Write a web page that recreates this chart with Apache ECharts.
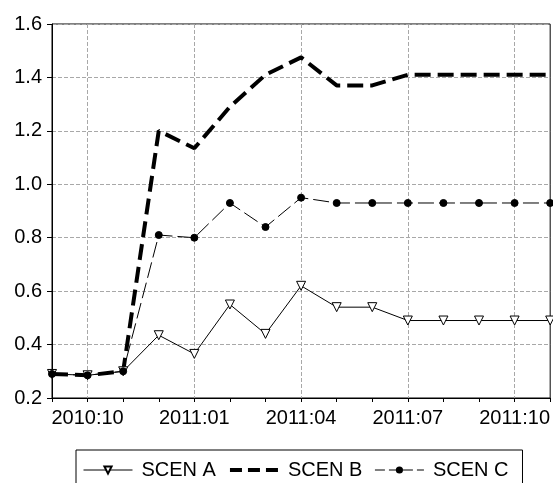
<!DOCTYPE html>
<html>
<head>
<meta charset="utf-8">
<script src="https://cdn.jsdelivr.net/npm/echarts@6/dist/echarts.min.js"></script>
<style>
  html, body { margin: 0; padding: 0; background: #fff; }
  #chart { width: 553px; height: 483px; }
</style>
</head>
<body>
<div id="chart"></div>
<script>
// monthly periods, EViews style labels
const months = ['2010:09', '2010:10', '2010:11', '2010:12', '2011:01', '2011:02', '2011:03',
  '2011:04', '2011:05', '2011:06', '2011:07', '2011:08', '2011:09', '2011:10', '2011:11']

const scenA = [0.29, 0.285, 0.30, 0.435, 0.365, 0.55, 0.44, 0.62, 0.54, 0.54, 0.49, 0.49, 0.49, 0.49, 0.49]
const scenB = [0.29, 0.285, 0.30, 1.20, 1.135, 1.29, 1.41, 1.475, 1.37, 1.37, 1.41, 1.41, 1.41, 1.41, 1.41]
const scenC = [0.29, 0.285, 0.30, 0.81, 0.80, 0.93, 0.84, 0.95, 0.93, 0.93, 0.93, 0.93, 0.93, 0.93, 0.93]

const yTicks = { min: 0.2, max: 1.6, step: 0.2 }

const font = 'Liberation Sans, Arial, sans-serif'
// show a label on every third month starting at 2010:10
const labelEvery = (idx) => (idx - 1) % 3 === 0

const chart = echarts.init(document.getElementById('chart'))

const option = {
  animation: false,
  grid: {
    left: 52,
    right: 2,
    top: 24,
    bottom: 85,
    show: true,
    borderColor: '#000',
    borderWidth: 1
  },
  legend: {
    left: 76,
    top: 450,
    orient: 'horizontal',
    borderColor: '#000',
    borderWidth: 1,
    borderRadius: 0,
    padding: [10, 14, 10, 7],
    itemWidth: 49,
    itemHeight: 9,
    itemGap: 12,
    textStyle: {
      fontFamily: font,
      fontSize: 20,
      color: '#000',
      padding: [0, 0, 0, 4]
    },
    data: [
      { name: 'SCEN A', lineStyle: { width: 1 } },
      { name: 'SCEN B', itemStyle: { opacity: 0 }, lineStyle: { width: 4, type: [12, 6], cap: 'butt' } },
      { name: 'SCEN C', lineStyle: { width: 1, type: [10, 4] } }
    ]
  },
  xAxis: {
    type: 'category',
    data: months,
    boundaryGap: false,
    axisLine: { lineStyle: { color: '#000', width: 1 } },
    axisTick: {
      show: true,
      length: 4,
      interval: 0,
      lineStyle: { color: '#000' }
    },
    axisLabel: {
      interval: (idx) => labelEvery(idx),
      fontFamily: font,
      fontSize: 20,
      color: '#000',
      margin: 10
    },
    splitLine: {
      show: true,
      interval: (idx) => labelEvery(idx),
      lineStyle: { color: '#a8a8a8', type: [4, 2], width: 1 }
    }
  },
  yAxis: {
    type: 'value',
    min: yTicks.min,
    max: yTicks.max,
    interval: yTicks.step,
    axisLine: { show: true, lineStyle: { color: '#000', width: 1 } },
    axisTick: { show: true, length: 5, lineStyle: { color: '#000' } },
    axisLabel: {
      fontFamily: font,
      fontSize: 20,
      color: '#000',
      margin: 10,
      formatter: (v) => v.toFixed(1)
    },
    splitLine: {
      show: true,
      lineStyle: { color: '#a8a8a8', type: [4, 2], width: 1 }
    }
  },
  series: [
    {
      name: 'SCEN A',
      type: 'line',
      data: scenA,
      symbol: 'triangle',
      symbolRotate: 180,
      symbolSize: 9,
      showAllSymbol: true,
      lineStyle: { color: '#000', width: 1 },
      itemStyle: { color: '#fff', borderColor: '#000', borderWidth: 1 }
    },
    {
      name: 'SCEN B',
      type: 'line',
      data: scenB,
      symbol: 'none',
      lineStyle: { color: '#000', width: 4, type: [16, 7], cap: 'butt' },
      itemStyle: { color: '#000' }
    },
    {
      name: 'SCEN C',
      type: 'line',
      data: scenC,
      symbol: 'circle',
      symbolSize: 7,
      showAllSymbol: true,
      lineStyle: { color: '#000', width: 1, type: [16, 5] },
      itemStyle: { color: '#000', borderColor: '#000' }
    }
  ]
}

chart.setOption(option)
</script>
</body>
</html>
